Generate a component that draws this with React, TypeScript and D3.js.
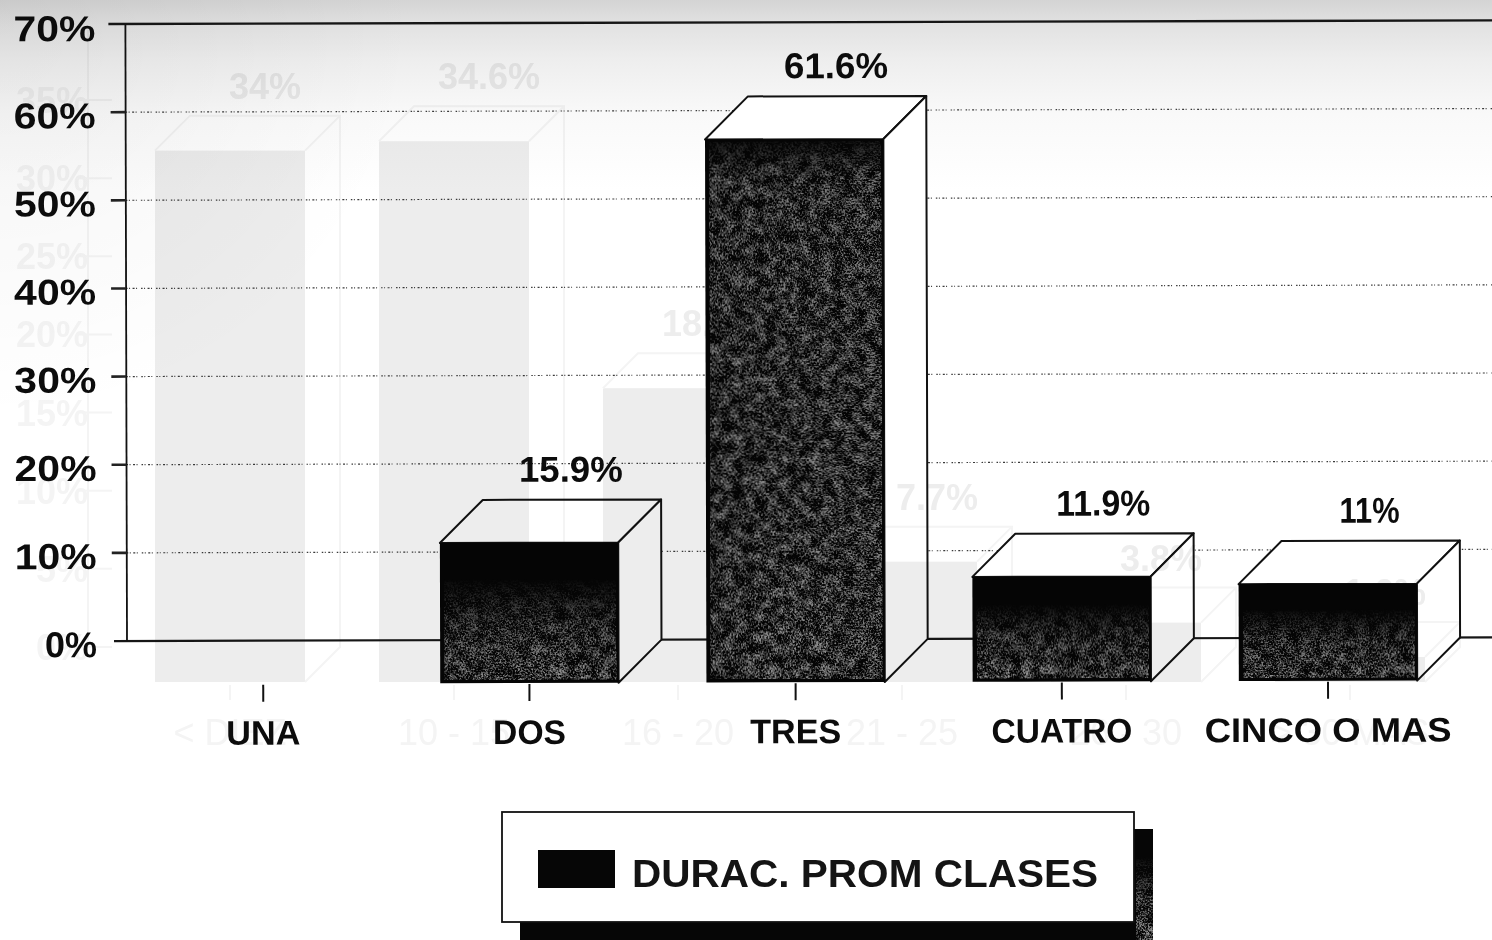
import React from "react";
import * as d3 from "d3";

// Front-side chart data
const categories = ["UNA", "DOS", "TRES", "CUATRO", "CINCO O MAS"];
const values = [0, 15.9, 61.6, 11.9, 11];
const valueLabels = ["", "15.9%", "61.6%", "11.9%", "11%"];
const yTicks = [0, 10, 20, 30, 40, 50, 60, 70];
const legendLabel = "DURAC. PROM CLASES";

// Chart showing through from the reverse of the scanned page
const ghostCategories = ["< DIEZ", "10 - 15", "16 - 20", "21 - 25", "26 - 30", "> 30 MAS"];
const ghostValues = [34, 34.6, 18.8, 7.7, 3.8, 1.6];
const ghostLabels = ["34%", "34.6%", "18.8%", "7.7%", "3.8%", "1.6%"];
const ghostTicks = [0, 5, 10, 15, 20, 25, 30, 35];

const W = 1492;
const H = 940;
const DEPTH = 43;
const FONT = "'Liberation Sans', Arial, sans-serif";
const TILT = "rotate(-0.15 127 641)";
const GHOST = "#ededed";
const GHOST_LIGHT = "#f4f4f4";

const xWidths: Record<string, number> = { UNA: 74, DOS: 73, TRES: 91, CUATRO: 141, "CINCO O MAS": 247 };
const labelWidths: Record<string, number> = { "15.9%": 104, "61.6%": 104, "11.9%": 94, "11%": 60 };

export default function App() {
  const x = d3.scaleBand<string>().domain(categories).range([130, 1461]).paddingInner(0.33).paddingOuter(0.165);
  const y = d3.scaleLinear().domain([0, 70]).range([641, 24]);
  const xG = d3.scaleBand<string>().domain(ghostCategories).range([118, 1462]).paddingInner(0.33).paddingOuter(0.165);
  const yG = d3.scaleLinear().domain([0, 35]).range([647, 100]);
  const GD = 35;
  const plotRight = 1500;

  const poly = (pts: [number, number][]) => pts.map((p) => p.join(",")).join(" ");
  const opaque = "1 0 0 0 0  1 0 0 0 0  1 0 0 0 0  0 0 0 0 1";

  return (
    <svg
      width={W}
      height={H}
      viewBox={`0 0 ${W} ${H}`}
      style={{ position: "fixed", left: 0, top: 0, background: "#fff", display: "block" }}
      fontFamily={FONT}
    >
      <defs>
        <linearGradient id="scanTop" x1="0" y1="0" x2="0" y2="1">
          <stop offset="0" stopColor="#d4d4d4" />
          <stop offset="0.13" stopColor="#e2e2e2" />
          <stop offset="0.32" stopColor="#eeeeee" />
          <stop offset="0.6" stopColor="#f9f9f9" />
          <stop offset="1" stopColor="#ffffff" />
        </linearGradient>
        <radialGradient id="scanCorner" gradientUnits="userSpaceOnUse" cx="0" cy="0" r="420">
          <stop offset="0" stopColor="#000" stopOpacity="0.05" />
          <stop offset="1" stopColor="#000" stopOpacity="0" />
        </radialGradient>
        <filter id="grain" x="0" y="0" width="100%" height="100%" colorInterpolationFilters="sRGB">
          <feTurbulence type="fractalNoise" baseFrequency="0.6" numOctaves="2" seed="7" />
          <feColorMatrix type="matrix" values={opaque} result="fine" />
          <feTurbulence type="fractalNoise" baseFrequency="0.09" numOctaves="3" seed="21" />
          <feColorMatrix type="matrix" values={opaque} result="blotch" />
          <feComposite in="fine" in2="blotch" operator="arithmetic" k1="0" k2="1" k3="0.45" k4="-0.225" />
          <feColorMatrix
            type="matrix"
            values="0 0 0 0 0.58  0 0 0 0 0.58  0 0 0 0 0.58  3.2 0 0 0 -1.3"
          />
        </filter>
        <linearGradient id="fadeShort" x1="0" y1="0" x2="0" y2="1">
          <stop offset="0" stopColor="#000" />
          <stop offset="0.25" stopColor="#000" />
          <stop offset="0.6" stopColor="#aaa" />
          <stop offset="1" stopColor="#fff" />
        </linearGradient>
        <linearGradient id="fadeTall" x1="0" y1="0" x2="0" y2="1">
          <stop offset="0" stopColor="#222" />
          <stop offset="0.07" stopColor="#ccc" />
          <stop offset="1" stopColor="#eee" />
        </linearGradient>
        <mask id="maskShort" maskContentUnits="objectBoundingBox" x="0" y="0" width="1" height="1">
          <rect width="1" height="1" fill="url(#fadeShort)" />
        </mask>
        <mask id="maskTall" maskContentUnits="objectBoundingBox" x="0" y="0" width="1" height="1">
          <rect width="1" height="1" fill="url(#fadeTall)" />
        </mask>
      </defs>

      {/* scan shading */}
      <rect x={0} y={0} width={W} height={190} fill="url(#scanTop)" />
      <rect x={0} y={0} width={W} height={H} fill="url(#scanCorner)" />

      <g transform={TILT}>
        {/* grid */}
        {yTicks.filter((t) => t > 0 && t < 70).map((t) => (
          <line
            key={t}
            x1={127}
            x2={plotRight}
            y1={y(t)}
            y2={y(t)}
            stroke="#3a3a3a"
            strokeWidth={1.2}
            strokeDasharray="1.5 1.5 1 2.5 2 1.5 1 4"
          />
        ))}
        {/* axes */}
        <line x1={110} x2={plotRight} y1={y(70)} y2={y(70)} stroke="#161616" strokeWidth={2.4} />
        <line x1={114} x2={plotRight} y1={y(0)} y2={y(0)} stroke="#161616" strokeWidth={2.2} />
        <line x1={127} x2={127} y1={y(70)} y2={y(0)} stroke="#111" strokeWidth={1.8} />
        {yTicks.filter((t) => t > 0 && t < 70).map((t) => (
          <line key={t} x1={112} x2={127} y1={y(t)} y2={y(t)} stroke="#222" strokeWidth={2.6} />
        ))}
        {yTicks.map((t) => (
          <text
            key={t}
            x={97}
            y={y(t) + (t === 70 ? 17 : 16)}
            textAnchor="end"
            fontSize={36}
            fontWeight={700}
            fill="#0c0c0c"
            textLength={t === 0 ? 52 : 82}
            lengthAdjust="spacingAndGlyphs"
          >
            {t}%
          </text>
        ))}

        {/* x ticks and labels */}
        {categories.map((c) => {
          const cx = x(c)! + x.bandwidth() / 2;
          return (
            <g key={c}>
              <line x1={cx} x2={cx} y1={y(0) + DEPTH + 1} y2={y(0) + DEPTH + 18} stroke="#111" strokeWidth={2} />
              <text
                x={cx}
                y={745}
                textAnchor="middle"
                fontSize={34}
                fontWeight={700}
                fill="#0c0c0c"
                textLength={xWidths[c]}
                lengthAdjust="spacingAndGlyphs"
              >
                {c}
              </text>
            </g>
          );
        })}

        {/* 3D bars */}
        {categories.map((c, i) => {
          const v = values[i];
          if (v <= 0) return null;
          const x0 = x(c)!;
          const x1 = x0 + x.bandwidth();
          const yTopBack = y(v);
          const yBase = y(0);
          const top = yTopBack + DEPTH;
          const bottom = yBase + DEPTH;
          return (
            <g key={c}>
              <polygon
                points={poly([[x0, top], [x0 + DEPTH, yTopBack], [x1 + DEPTH, yTopBack], [x1, top]])}
                fill="#fff"
                stroke="#111"
                strokeWidth={2}
                strokeLinejoin="round"
              />
              <polygon
                points={poly([[x1, top], [x1 + DEPTH, yTopBack], [x1 + DEPTH, yBase], [x1, bottom]])}
                fill="#fff"
                stroke="#111"
                strokeWidth={2}
                strokeLinejoin="round"
              />
              <rect x={x0} y={top} width={x.bandwidth()} height={bottom - top} fill="#050505" />
              <g mask={v > 30 ? "url(#maskTall)" : "url(#maskShort)"}>
                <rect x={x0 + 4} y={top + 2} width={x.bandwidth() - 6} height={bottom - top - 5} fill="#777" filter="url(#grain)" />
              </g>
              <text
                x={x0 + x.bandwidth() / 2 + 42}
                y={yTopBack - 18}
                textAnchor="middle"
                fontSize={36}
                fontWeight={700}
                fill="#0c0c0c"
                textLength={labelWidths[valueLabels[i]]}
                lengthAdjust="spacingAndGlyphs"
              >
                {valueLabels[i]}
              </text>
            </g>
          );
        })}
      </g>

      {/* legend */}
      <g>
        <rect x={520} y={829} width={633} height={111} fill="#060606" />
        <g mask="url(#maskShort)">
          <rect x={1136} y={829} width={17} height={111} fill="#777" filter="url(#grain)" />
        </g>
        <rect x={502} y={812} width={632} height={110} fill="#fff" stroke="#111" strokeWidth={1.8} />
        <rect x={538} y={850} width={77} height={38} fill="#060606" />
        <text
          x={632}
          y={887}
          fontSize={38}
          fontWeight={700}
          fill="#141414"
          textLength={466}
          lengthAdjust="spacingAndGlyphs"
        >
          {legendLabel}
        </text>
      </g>

      {/* show-through of the reverse page */}
      <g style={{ mixBlendMode: "multiply" }}>
        <line x1={88} x2={88} y1={30} y2={yG(0)} stroke={GHOST_LIGHT} strokeWidth={2} />
        {ghostTicks.map((t) => (
          <g key={t}>
            <line x1={78} x2={112} y1={yG(t)} y2={yG(t)} stroke={GHOST_LIGHT} strokeWidth={2} />
            <text x={88} y={yG(t) + 13} textAnchor="end" fontSize={36} fontWeight={700} fill={GHOST_LIGHT}>
              {t}%
            </text>
          </g>
        ))}
        {ghostCategories.map((c, i) => {
          const x0 = xG(c)!;
          const bw = xG.bandwidth();
          const yb = yG(ghostValues[i]);
          const cx = x0 + bw / 2;
          return (
            <g key={c}>
              <rect x={x0} y={yb + GD} width={bw} height={yG(0) - yb} fill={GHOST} />
              <polyline
                points={poly([
                  [x0, yb + GD],
                  [x0 + GD, yb],
                  [x0 + bw + GD, yb],
                  [x0 + bw + GD, yG(0)],
                  [x0 + bw, yG(0) + GD],
                ])}
                fill="none"
                stroke={GHOST_LIGHT}
                strokeWidth={2}
              />
              <line x1={x0 + bw} y1={yb + GD} x2={x0 + bw + GD} y2={yb} stroke={GHOST_LIGHT} strokeWidth={2} />
              <line x1={cx} x2={cx} y1={yG(0) + GD + 3} y2={yG(0) + GD + 18} stroke={GHOST_LIGHT} strokeWidth={2} />
              <text x={cx} y={745} textAnchor="middle" fontSize={36} fill={GHOST_LIGHT}>
                {c}
              </text>
              <text x={cx + GD} y={yb - 17} textAnchor="middle" fontSize={36} fontWeight={700} fill={GHOST}>
                {ghostLabels[i]}
              </text>
            </g>
          );
        })}
      </g>
    </svg>
  );
}
